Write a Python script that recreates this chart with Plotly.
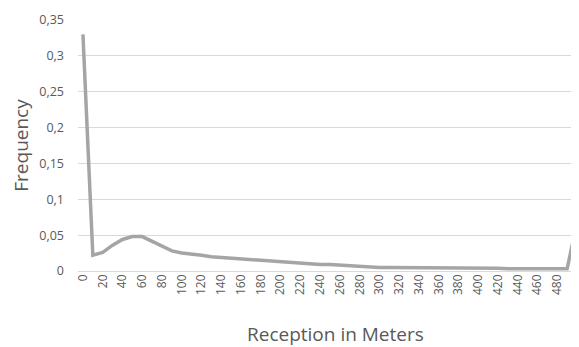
import plotly.graph_objects as go

categories = [str(v) for v in range(0, 500, 10)] + [">=500"]
frequency = [0.33, 0.022, 0.026, 0.036, 0.044, 0.048, 0.048, 0.041, 0.034, 0.028,
             0.025, 0.024, 0.022, 0.020, 0.019, 0.018, 0.016, 0.015, 0.014, 0.013,
             0.012, 0.011, 0.010, 0.010, 0.009, 0.009, 0.008, 0.007, 0.007, 0.006,
             0.005, 0.005, 0.005, 0.005, 0.005, 0.004, 0.004, 0.004, 0.004, 0.004,
             0.004, 0.004, 0.004, 0.003, 0.003, 0.003, 0.003, 0.003, 0.003, 0.003,
             0.068]
tick_labels = [c for i, c in enumerate(categories) if i % 2 == 0]
y_ticks = [0, 0.05, 0.1, 0.15, 0.2, 0.25, 0.3, 0.35]
y_tick_text = ["0", "0,05", "0,1", "0,15", "0,2", "0,25", "0,3", "0,35"]

fig = go.Figure()
fig.add_trace(go.Scatter(x=categories, y=frequency, mode="lines",
                         line=dict(color="#a5a5a5", width=3.5), cliponaxis=False))

fig.update_layout(
    width=571, height=339,
    margin=dict(l=70, r=0, t=12, b=76),
    plot_bgcolor="white", paper_bgcolor="white",
    showlegend=False,
    font=dict(family="Open Sans, Liberation Sans, sans-serif", color="#595959"),
)
fig.add_annotation(text="Reception in Meters", xref="paper", yref="paper",
                   x=0.513, y=-0.25, xanchor="center", yanchor="middle",
                   showarrow=False, font=dict(size=19, color="#595959"))
fig.update_xaxes(
    type="category", categoryorder="array", categoryarray=categories,
    range=[-0.5, 50.2], automargin=False,
    tickmode="array", tickvals=tick_labels, ticktext=tick_labels,
    tickangle=-90, tickfont=dict(size=12, color="#595959"),
    showgrid=False, showline=False, ticks="",
)
fig.update_yaxes(
    range=[0, 0.35], tickvals=y_ticks, ticktext=y_tick_text, automargin=False,
    tickfont=dict(size=12.5, color="#595959"),
    showgrid=True, gridcolor="#d9d9d9", gridwidth=1,
    zeroline=True, zerolinecolor="#d9d9d9", zerolinewidth=1,
    showline=False, ticks="", ticklabelstandoff=13,
    title=dict(text="Frequency", font=dict(size=19, color="#595959"), standoff=10),
)

fig.write_html("out.html")
